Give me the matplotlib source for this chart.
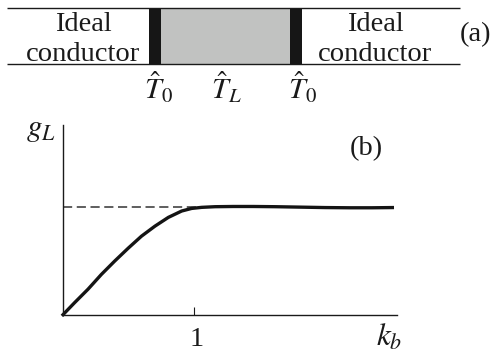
#!/usr/bin/env python
"""Two-panel figure: (a) conductor/barrier sketch, (b) g_L against k_b saturating at a dashed level."""
import matplotlib
matplotlib.use("Agg")
import matplotlib.pyplot as plt
from matplotlib.patches import Rectangle
from matplotlib.transforms import ScaledTranslation

plt.rcParams["font.family"] = ["Liberation Serif", "DejaVu Serif"]
plt.rcParams["mathtext.fontset"] = "stix"

# curve values, x in units of the tick "1", y in units of the dashed level
KB = [0.0, 0.089, 0.191, 0.293, 0.395, 0.497, 0.599, 0.702, 0.804, 0.906, 0.982, 1.059,
      1.161, 1.30, 1.453, 1.62, 1.81, 2.0, 2.19, 2.36, 2.514]
GL = [0.0, 0.112, 0.236, 0.373, 0.497, 0.615, 0.727, 0.820, 0.901, 0.960, 0.984, 0.994,
      1.0, 1.002, 1.002, 1.0, 0.996, 0.992, 0.990, 0.990, 0.992]
LEVEL = 1.0
XTICKS = [1]
XTICKLABELS = ["1"]
LEADS = ["Ideal\nconductor", "Ideal\nconductor"]
INTERFACES = [r"$\hat{T}_0$", r"$\hat{T}_L$", r"$\hat{T}_0$"]

W, H = 491, 352
FS = 20.5
INK = "#1a1a1a"
fig = plt.figure(figsize=(W / 100, H / 100), dpi=100)

# panel (a), drawn in pixel coordinates of the figure
top = fig.add_axes([0, 0, 1, 1])
top.set_xlim(0, W)
top.set_ylim(H, 0)
top.axis("off")
top.add_patch(Rectangle((161, 8), 129, 56, fc="#c1c2c1", ec="none"))
top.add_patch(Rectangle((149, 8), 12, 56, fc="#161616", ec="none"))
top.add_patch(Rectangle((290, 8), 12, 56, fc="#161616", ec="none"))
for yy in (8, 64):
    top.plot([7, 460], [yy, yy], color=INK, lw=1.0, solid_capstyle="butt")
top.text(83.5, 39.5, LEADS[0], ha="center", va="center", fontsize=FS, linespacing=1.25, color=INK)
top.text(375, 39.5, LEADS[1], ha="center", va="center", fontsize=FS, linespacing=1.25, color=INK)
top.text(476, 35, "(a)", ha="center", va="center", fontsize=FS, color=INK)
for xx, lab in zip((158.5, 226, 302), INTERFACES):
    top.text(xx, 87, lab, ha="center", va="center", fontsize=FS + 1, color=INK)

# panel (b)
x0, x1, y0, y1 = 63, 397, 314.7, 125
ax = fig.add_axes([x0 / W, 1 - y0 / H, (x1 - x0) / W, (y0 - y1) / H])
ax.set_xlim(0, (x1 - x0) / 131)
ax.set_ylim(0, (y0 - y1) / 108)
ax.patch.set_visible(False)
for s in ("top", "right"):
    ax.spines[s].set_visible(False)
for s in ("left", "bottom"):
    ax.spines[s].set_linewidth(1.0)
    ax.spines[s].set_color(INK)
ax.axhline(LEVEL, xmax=1.2 / ax.get_xlim()[1], color="#333333", lw=1.1, dashes=(6, 3))
ax.plot(KB, GL, color="#141414", lw=2.4, clip_on=False)
ax.set_xticks(XTICKS)
ax.set_xticklabels(XTICKLABELS, fontsize=FS, color=INK)
ax.tick_params(axis="x", direction="in", length=6, width=0.8, pad=9, color=INK)
for lab in ax.get_xticklabels():
    lab.set_transform(lab.get_transform() + ScaledTranslation(3 / 100, 0, fig.dpi_scale_trans))
ax.set_yticks([])
top.text(41, 130, r"$g_L$", ha="center", va="center", fontsize=FS + 2, color=INK)
top.text(389, 338, r"$k_b$", ha="center", va="center", fontsize=FS + 2, color=INK)
top.text(366, 149, "(b)", ha="center", va="center", fontsize=FS, color=INK)

fig.savefig("out.png", dpi=100)
